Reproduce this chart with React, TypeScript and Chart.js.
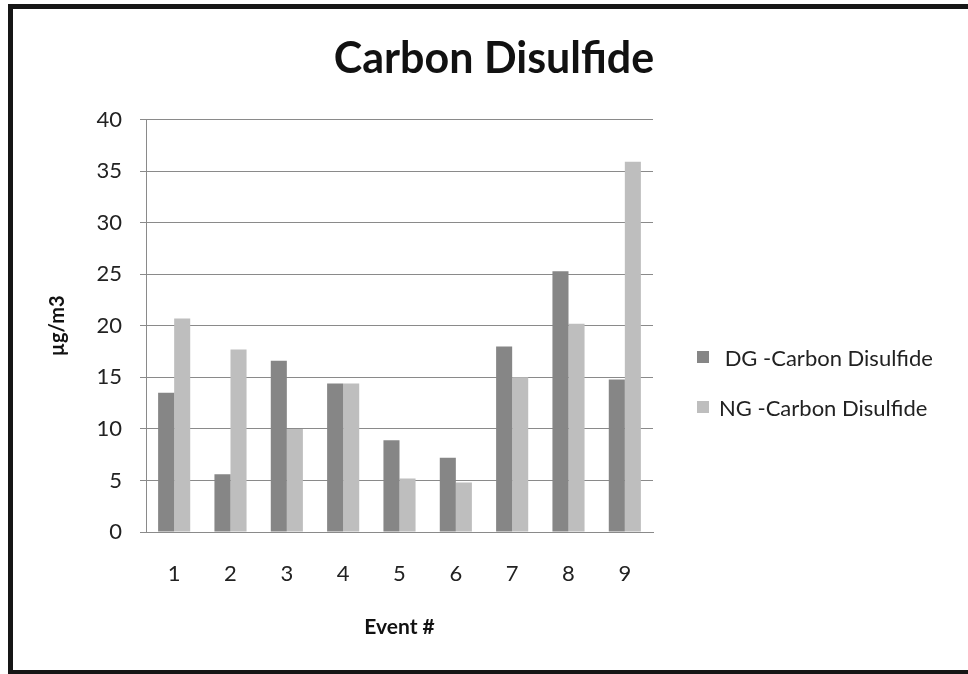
import React, { useEffect, useRef } from "react";
import { Chart, registerables } from "chart.js";

Chart.register(...registerables);

const categories = ["1", "2", "3", "4", "5", "6", "7", "8", "9"];
const dgValues = [13.5, 5.6, 16.6, 14.4, 8.9, 7.2, 18.0, 25.3, 14.8];
const ngValues = [20.7, 17.7, 10.0, 14.4, 5.2, 4.8, 15.0, 20.2, 35.9];
const seriesNames = [" DG -Carbon Disulfide", "NG -Carbon Disulfide"];
const seriesColors = ["#868686", "#bebebe"];
const chartTitle = "Carbon Disulfide";
const xTitle = "Event #";
const yTitle = "µg/m3";

const FONT = "Lato, 'Open Sans', sans-serif";

export default function App() {
  const ref = useRef<HTMLCanvasElement | null>(null);

  useEffect(() => {
    if (!ref.current) return;
    const chart = new Chart(ref.current, {
      type: "bar",
      data: {
        labels: categories,
        datasets: [
          { label: seriesNames[0], data: dgValues, backgroundColor: seriesColors[0], yAxisID: "y" },
          { label: seriesNames[1], data: ngValues, backgroundColor: seriesColors[1], yAxisID: "y" },
        ],
      },
      options: {
        responsive: false,
        animation: false,
        layout: { padding: { left: 30, right: 10, top: 20, bottom: 20 } },
        datasets: { bar: { categoryPercentage: 0.57, barPercentage: 1.0 } },
        plugins: {
          legend: { display: false },
          tooltip: { enabled: false },
          title: {
            display: true,
            text: chartTitle,
            color: "#111",
            font: { family: FONT, size: 43, weight: "bold" },
            padding: { top: 13, bottom: 35 },
          },
        },
        scales: {
          x: {
            grid: { display: false, drawTicks: false },
            border: { display: true, color: "#8a8a8a", width: 1 },
            ticks: { color: "#222", font: { family: FONT, size: 22 }, padding: 29 },
            title: {
              display: true,
              text: xTitle,
              color: "#111",
              font: { family: FONT, size: 21, weight: "bold" },
              padding: { top: 0, bottom: 14 },
            },
            afterFit: (s: any) => {
              s.height = 122;
            },
          },
          y: {
            min: 0,
            max: 40,
            ticks: { stepSize: 5, color: "#222", font: { family: FONT, size: 22 }, padding: 18 },
            grid: { color: "#8a8a8a", lineWidth: 1, tickLength: 6, drawTicks: true },
            border: { display: true, color: "#8a8a8a", width: 1 },
            title: {
              display: true,
              text: yTitle,
              color: "#111",
              font: { family: FONT, size: 20, weight: "bold" },
              padding: { top: 16, bottom: 0 },
            },
            afterFit: (s: any) => {
              s.width = 116;
            },
          },
          y2: {
            type: "linear",
            position: "right",
            display: true,
            grid: { display: false, drawTicks: false },
            border: { display: false },
            ticks: { display: false },
            afterFit: (s: any) => {
              s.width = 305;
            },
          },
        },
      },
    });
    return () => chart.destroy();
  }, []);

  const legendRows = seriesNames.map((name, i) => (
    <div
      key={name}
      style={{
        position: "absolute",
        left: 697,
        top: 346 + i * 50,
        height: 22,
        display: "flex",
        alignItems: "center",
        fontFamily: FONT,
        fontSize: 22,
        color: "#222",
        whiteSpace: "pre",
      }}
    >
      <span style={{ display: "inline-block", width: 12, height: 12, background: seriesColors[i], marginRight: 10 }} />
      <span>{name}</span>
    </div>
  ));

  return (
    <div style={{ position: "fixed", left: 0, top: 0, width: 968, height: 674, overflow: "hidden", background: "#fff" }}>
      <div
        style={{
          position: "absolute",
          left: 8,
          top: 4,
          width: 990,
          height: 670,
          boxSizing: "border-box",
          borderTop: "5px solid #161616",
          borderLeft: "5px solid #161616",
          borderBottom: "4px solid #161616",
        }}
      />
      <canvas ref={ref} width={968} height={674} style={{ position: "absolute", left: 0, top: 0 }} />
      {legendRows}
    </div>
  );
}
